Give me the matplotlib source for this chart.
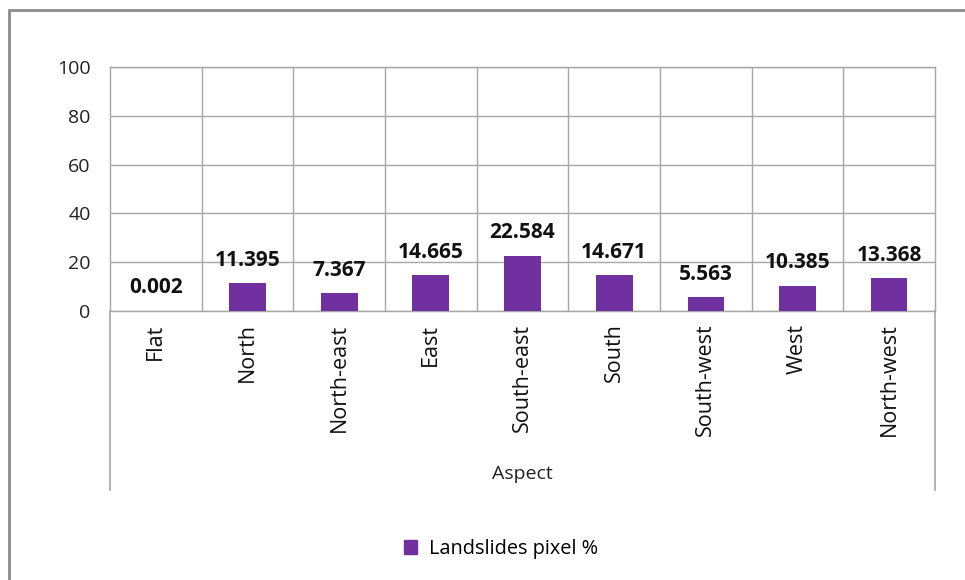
import matplotlib
matplotlib.use("Agg")
import matplotlib.pyplot as plt
from matplotlib.patches import Rectangle
from matplotlib.lines import Line2D

categories = ["Flat", "North", "North-east", "East", "South-east",
              "South", "South-west", "West", "North-west"]
values = [0.002, 11.395, 7.367, 14.665, 22.584, 14.671, 5.563, 10.385, 13.368]
value_labels = ["0.002", "11.395", "7.367", "14.665", "22.584",
                "14.671", "5.563", "10.385", "13.368"]
y_ticks = [0, 20, 40, 60, 80, 100]
series_name = "Landslides pixel %"
axis_title = "Aspect"

plt.rcParams["font.family"] = ["Open Sans", "DejaVu Sans"]

W, H = 965, 580
fig = plt.figure(figsize=(W / 100, H / 100), dpi=100)
fig.patch.set_facecolor("white")

# outer frame (only left and top edges visible)
fig.add_artist(Rectangle((9 / W, -0.05), 1.1, 1 - 10 / H + 0.05,
                         transform=fig.transFigure, fill=False,
                         edgecolor="#8c8c8c", linewidth=2))

left, right, top, bottom = 110, 935, 67, 311
ax = fig.add_axes([left / W, 1 - bottom / H, (right - left) / W, (bottom - top) / H])

bar_color = "#7030A0"
grid_color = "#a6a6a6"
x = list(range(len(categories)))
ax.bar(x, values, width=0.4, color=bar_color, zorder=3)

ax.set_xlim(-0.5, len(categories) - 0.5)
ax.set_ylim(0, 100)
ax.set_yticks(y_ticks)
ax.set_yticklabels([str(t) for t in y_ticks], fontsize=14, color="#222222")
ax.tick_params(axis="y", length=0, pad=14)

ax.set_xticks(x)
ax.set_xticklabels(categories, rotation=90, fontsize=15.5, color="#111111", va="top")
ax.tick_params(axis="x", length=0, pad=9)

for s in ax.spines.values():
    s.set_color(grid_color)
    s.set_linewidth(1)

# horizontal gridlines
ax.yaxis.grid(True, color=grid_color, linewidth=1, zorder=0)
# category separators
for i in range(1, len(categories)):
    ax.axvline(i - 0.5, color=grid_color, linewidth=1, zorder=0)

# outer separators extending through the category label band
ext = (490 - bottom) / (bottom - top)
trans = ax.get_xaxis_transform()
for xv in (-0.5, len(categories) - 0.5):
    ax.add_line(Line2D([xv, xv], [0, -ext], transform=trans, color=grid_color,
                       linewidth=1.2, clip_on=False))

# value labels above bars
for xi, v, lab in zip(x, values, value_labels):
    ax.annotate(lab, (xi, v), xytext=(0, 9), textcoords="offset points",
                ha="center", va="bottom", fontsize=15, fontweight="bold",
                color="#111111")

fig.text((left + right) / 2 / W, 1 - 474 / H, axis_title, ha="center",
         va="center", fontsize=14, color="#222222")

# legend
handle = Rectangle((0, 0), 1, 1, color=bar_color)
fig.legend([handle], [series_name], loc="center", bbox_to_anchor=(501 / W, 1 - 549 / H),
           frameon=False, fontsize=14.3, handlelength=0.7, handleheight=0.7,
           handletextpad=0.6)

fig.savefig("out.png", dpi=100)
